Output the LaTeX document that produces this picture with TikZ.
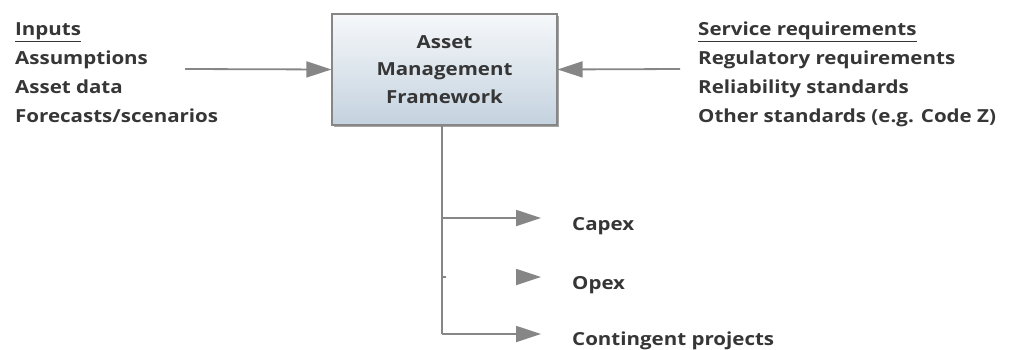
\documentclass[tikz,border=0pt]{standalone}
\usepackage{fontspec}
\setmainfont{Open Sans}[FakeStretch=1.14]
\usetikzlibrary{arrows.meta,shadows,calc}
\definecolor{txt}{HTML}{363636}
\definecolor{ln}{HTML}{868686}
\definecolor{boxtop}{HTML}{F6F8FA}
\definecolor{boxbot}{HTML}{C4D2DF}
\tikzset{
  lbl/.style={font=\fontsize{18}{29}\selectfont\bfseries, text=txt, inner sep=0pt},
  lst/.style={lbl, align=left, anchor=north west},
  conn/.style={draw=ln, line width=1.8pt},
  arr/.style={conn, -{Triangle[length=25pt,width=16pt]}},
  framebox/.style={draw=ln, line width=1.2pt, top color=boxtop, bottom color=boxbot,
    minimum width=225pt, minimum height=111pt, inner sep=0pt,
    drop shadow={shadow xshift=1.5pt, shadow yshift=-1.5pt, fill=gray!70, opacity=1}},
}
\begin{document}
\begin{tikzpicture}[x=1pt,y=-1pt]
\useasboundingbox (0,0) rectangle (1018,349);
% central box
\node[framebox, lbl, font=\fontsize{18}{27.5}\selectfont\bfseries, align=center] (amf) at (444.5,69.5)
  {Asset\\Management\\Framework};
% inputs on the left
\node[lst] (inputs) at (15,22) {\underline{Inputs}\\Assumptions\\Asset data\\Forecasts/scenarios};
\coordinate (instart) at (185,69);
\draw[arr] (instart) -- (amf.west);
% requirements on the right
\node[lst] (reqs) at (698,22) {\underline{Service requirements}\\Regulatory requirements\\Reliability standards\\Other standards (e.g. Code Z)};
\coordinate (reqstart) at (680,69);
\draw[arr] (reqstart) -- (amf.east);
% outputs below
\node[lbl, anchor=west] (capex) at (572,226) {Capex};
\node[lbl, anchor=west] (opex) at (572,285) {Opex};
\node[lbl, anchor=west] (cont) at (572,341) {Contingent projects};
\coordinate (trunk) at (442,334);
\coordinate (tcap) at (442,218);
\coordinate (topx) at (442,277);
\coordinate (hcap) at (541,218);
\coordinate (hopx) at (541,277);
\coordinate (hcont) at (541,334);
\draw[conn, line width=2.4pt] (amf.south -| trunk) -- (trunk);
\draw[arr] (trunk) -- (hcont);
\draw[arr] (tcap) -- (hcap);
\draw[conn] (topx) -- ++(4,0);
\draw[arr] ($(hopx)+(-25,0)$) -- (hopx);
\end{tikzpicture}
\end{document}
